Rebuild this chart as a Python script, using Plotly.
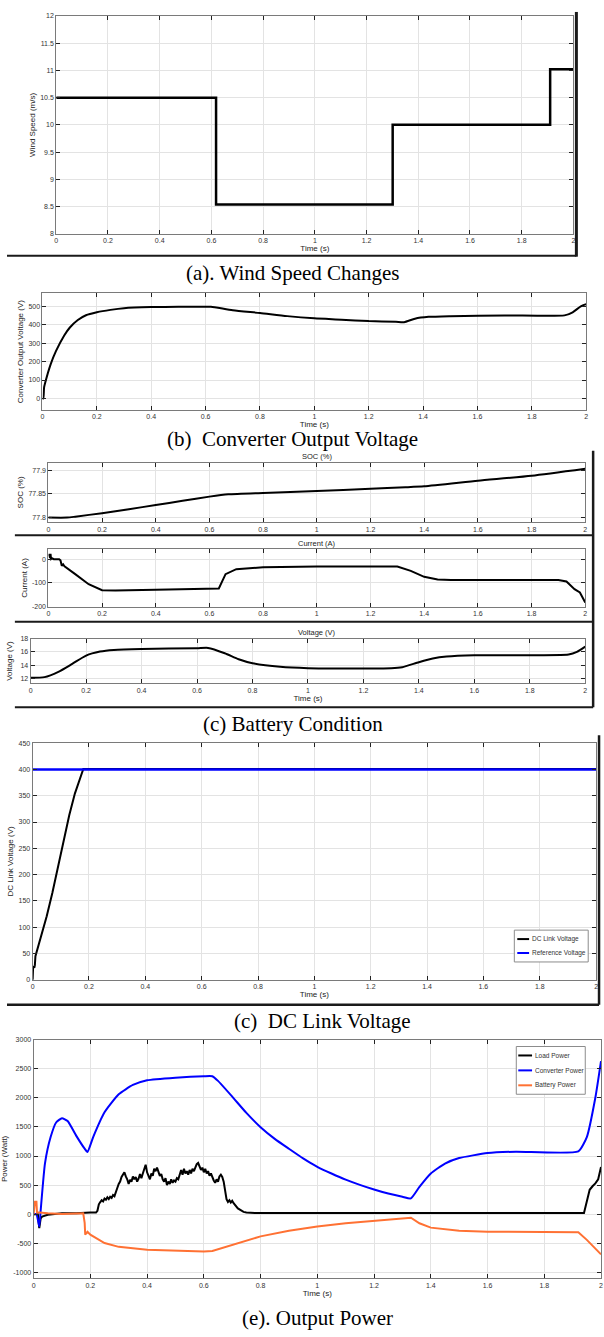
import plotly.graph_objects as go

# ---------------- data ----------------
# (a) wind speed (step profile)
wind_t = [0.0, 0.618, 1.301, 1.91, 2.0]
wind_v = [10.5, 8.54, 10.0, 11.02, 11.02]

# (b) converter output voltage
conv_t = [0, 0.003, 0.006, 0.01, 0.03, 0.05, 0.08, 0.1, 0.13, 0.16, 0.2, 0.25, 0.3, 0.4, 0.5,
          0.6, 0.62, 0.7, 0.8, 0.9, 1.0, 1.1, 1.2, 1.3, 1.33, 1.37, 1.42, 1.5, 1.7, 1.92, 1.95, 1.98, 2.0]
conv_v = [0, 0, 60, 85, 185, 258, 342, 384, 426, 452, 468, 481, 490, 496, 498,
          498, 498, 479, 464, 447, 435, 428, 420, 416, 414, 433, 443, 447, 451, 451, 468, 500, 512]

# (c) battery condition
soc_t = [0, 0.07, 0.1, 0.2, 0.3, 0.4, 0.5, 0.6, 0.67, 0.8, 1.0, 1.2, 1.33, 1.4, 1.6, 1.8, 2.0]
soc_v = [77.799, 77.799, 77.801, 77.8086, 77.817, 77.826, 77.835, 77.844, 77.849, 77.852,
         77.856, 77.861, 77.864, 77.866, 77.878, 77.889, 77.904]

cur_t = [0, 0.003, 0.006, 0.008, 0.01, 0.015, 0.02, 0.04, 0.045, 0.05, 0.055, 0.06, 0.1, 0.15, 0.2,
         0.25, 0.4, 0.6, 0.635, 0.66, 0.7, 0.8, 1.0, 1.3, 1.35, 1.4, 1.45, 1.5, 1.9, 1.93, 1.96, 1.98, 2.0]
cur_v = [20, 18, 5, 22, 0, 3, 0, 0, -5, -28, -22, -30, -63, -105, -130,
         -131, -128, -125, -123, -63, -42, -34, -31, -31, -49, -74, -85, -88, -88, -94, -126, -140, -182]

bv_t = [0, 0.05, 0.1, 0.15, 0.2, 0.25, 0.3, 0.4, 0.6, 0.64, 0.7, 0.75, 0.8, 0.9, 1.0, 1.3, 1.34,
        1.4, 1.45, 1.5, 1.6, 1.94, 1.97, 2.0]
bv_v = [12.1, 12.2, 13.0, 14.2, 15.45, 16.05, 16.3, 16.45, 16.55, 16.6, 15.8, 14.9, 14.3, 13.75,
        13.55, 13.55, 13.7, 14.45, 15.0, 15.3, 15.5, 15.6, 16.0, 16.8]

# (d) DC link voltage
dc_t = [0, 0.001, 0.002, 0.006, 0.008, 0.01, 0.03, 0.05, 0.07, 0.09, 0.11, 0.13, 0.15, 0.17, 0.18, 2.0]
dc_v = [0, 10, 26, 23, 28, 45, 83, 121, 165, 216, 266, 313, 354, 386, 401, 401]
ref_t = [0, 2.0]
ref_v = [400, 400]

# (e) output power
load_t = [0, 0.015, 0.02, 0.025, 0.03, 0.05, 0.1, 0.15, 0.2, 0.22, 0.225, 0.23, 0.235, 0.24, 0.245,
          0.25, 0.255, 0.26, 0.265, 0.27, 0.275, 0.28, 0.285, 0.29, 0.295, 0.3, 0.305, 0.31, 0.315,
          0.32, 0.325, 0.33, 0.335, 0.34, 0.345, 0.35, 0.355, 0.36, 0.365, 0.37, 0.375, 0.38, 0.385,
          0.39, 0.395, 0.4, 0.405, 0.41, 0.415, 0.42, 0.425, 0.43, 0.435, 0.44, 0.445, 0.45, 0.455,
          0.46, 0.465, 0.47, 0.475, 0.48, 0.485, 0.49, 0.495, 0.5, 0.505, 0.51, 0.515, 0.52, 0.525,
          0.53, 0.535, 0.54, 0.545, 0.55, 0.555, 0.56, 0.565, 0.57, 0.575, 0.58, 0.585, 0.59, 0.595,
          0.6, 0.605, 0.61, 0.615, 0.62, 0.625, 0.63, 0.635, 0.64, 0.645, 0.65, 0.655, 0.66, 0.665,
          0.67, 0.675, 0.68, 0.685, 0.69, 0.695, 0.7, 0.705, 0.71, 0.715, 0.72, 0.73, 0.74, 0.75,
          0.78, 1.94, 1.95, 1.96, 1.97, 1.98, 1.99, 2.0]
load_p = [0, 0, -240, -70, -40, -10, 15, 15, 28, 28, 60, 170, 210, 240, 220,
          270, 250, 290, 260, 300, 280, 330, 310, 400, 450, 520, 560, 640, 680,
          720, 650, 600, 520, 590, 560, 650, 600, 640, 560, 610, 690, 620, 700,
          760, 850, 720, 640, 600, 700, 660, 780, 740, 800, 720, 660, 690, 600,
          560, 620, 500, 560, 520, 600, 540, 580, 560, 620, 600, 700, 760, 680,
          780, 700, 740, 680, 760, 700, 780, 740, 800, 860, 880, 820, 760, 800,
          720, 780, 700, 740, 660, 700, 620, 580, 540, 600, 560, 650, 680, 640,
          560, 400, 260, 210, 240, 200, 230, 190, 160, 120, 100, 70, 40, 30,
          20, 20, 200, 420, 480, 530, 600, 810]

convp_t = [0, 0.01, 0.02, 0.025, 0.04, 0.06, 0.08, 0.1, 0.12, 0.15, 0.18, 0.19, 0.21, 0.25, 0.3,
           0.35, 0.4, 0.5, 0.6, 0.63, 0.65, 0.7, 0.75, 0.8, 0.85, 0.9, 0.95, 1.0, 1.05, 1.1, 1.15,
           1.2, 1.25, 1.3, 1.33, 1.36, 1.4, 1.45, 1.5, 1.6, 1.7, 1.92, 1.95, 1.98, 2.0]
convp_p = [0, 0, -210, 70, 870, 1325, 1580, 1650, 1600, 1350, 1125, 1070, 1325, 1750, 2060,
           2220, 2300, 2345, 2370, 2370, 2290, 2020, 1740, 1495, 1295, 1125, 960, 815, 700, 595, 505,
           425, 355, 300, 273, 470, 700, 870, 965, 1050, 1075, 1080, 1325, 2000, 2630]

bat_t = [0, 0.005, 0.01, 0.012, 0.02, 0.05, 0.1, 0.175, 0.18, 0.182, 0.19, 0.2, 0.25, 0.3, 0.4,
         0.5, 0.6, 0.63, 0.7, 0.8, 0.9, 1.0, 1.1, 1.2, 1.3, 1.33, 1.36, 1.4, 1.5, 1.6, 1.92, 1.95, 2.0]
bat_p = [0, 215, 215, 30, 30, 15, 5, 15, -150, -350, -300, -350, -495, -560, -610,
         -625, -640, -630, -525, -380, -285, -210, -155, -110, -70, -60, -155, -230, -285, -300,
         -310, -440, -690]

time_ticks = [0, 0.2, 0.4, 0.6, 0.8, 1, 1.2, 1.4, 1.6, 1.8, 2]
time_labels = ["0", "0.2", "0.4", "0.6", "0.8", "1", "1.2", "1.4", "1.6", "1.8", "2"]

dc_legend = ["DC Link Voltage", "Reference Voltage"]
pw_legend = ["Load Power", "Converter Power", "Battery Power"]

# ---------------- layout helpers ----------------
W, H = 604, 1337


def xd(l, r):
    return [l / W, r / W]


def yd(t, b):
    return [1 - b / H, 1 - t / H]


def px(x):
    return x / W


def py(y):
    return 1 - y / H


SANS = "Liberation Sans, Arial, sans-serif"
TICKFONT = dict(family=SANS, size=7, color="#333333")
TITLEFONT = dict(family=SANS, size=8, color="#222222")
CAPFONT = dict(family="Liberation Serif, Times New Roman, serif", size=21, color="#000000")

fig = go.Figure()

panels = [
    # name, x-domain, y-domain, y-range, y-ticks, y-ticktext, y-title, title standoff
    ("1", xd(50, 575), yd(12, 231), [8, 12], [8, 8.5, 9, 9.5, 10, 10.5, 11, 11.5, 12],
     ["8", "8.5", "9", "9.5", "10", "10.5", "11", "11.5", "12"], "Wind Speed (m/s)", 3),
    ("2", xd(36, 588), yd(291, 408), [-62, 570], [0, 100, 200, 300, 400, 500],
     ["0", "100", "200", "300", "400", "500"], "Converter Output Voltage (V)", 3),
    ("3", xd(42, 587), yd(461, 521), [77.789, 77.917], [77.8, 77.85, 77.9],
     ["77.8", "77.85", "77.9"], "SOC (%)", 3),
    ("4", xd(42, 587), yd(548, 606), [-200, 42], [-200, -100, 0],
     ["-200", "-100", "0"], "Current (A)", 3),
    ("5", xd(24, 587), yd(638, 683), [11.25, 18], [12, 14, 16, 18],
     ["12", "14", "16", "18"], "Voltage (V)", 6),
    ("6", xd(26, 598), yd(743, 981), [0, 450], list(range(0, 451, 50)),
     [str(v) for v in range(0, 451, 50)], "DC Link Voltage (V)", 3),
    ("7", xd(27, 603), yd(1041, 1281), [-1100, 3000], list(range(-1000, 3001, 500)),
     [str(v) for v in range(-1000, 3001, 500)], "Power (Watt)", 8),
]

show_xtitle = {"1", "2", "5", "6", "7"}

for name, xdom, ydom, yr, yt, ytt, ytitle, stand in panels:
    xkey = "xaxis" if name == "1" else "xaxis" + name
    ykey = "yaxis" if name == "1" else "yaxis" + name
    fig.layout[xkey] = dict(
        domain=xdom, anchor="y" + ("" if name == "1" else name), range=[0, 2],
        tickvals=time_ticks, ticktext=time_labels, tickfont=TICKFONT,
        showgrid=True, gridcolor="#e3e3e3", gridwidth=1, zeroline=False,
        showline=True, linecolor="#7a7a7a", linewidth=1, mirror="ticks",
        ticks="inside", ticklen=4, tickcolor="#222222",
        title=dict(text="Time (s)" if name in show_xtitle else "", font=TITLEFONT, standoff=2),
    )
    fig.layout[ykey] = dict(
        domain=ydom, anchor="x" + ("" if name == "1" else name), range=yr,
        tickvals=yt, ticktext=ytt, tickfont=TICKFONT,
        showgrid=True, gridcolor="#e3e3e3", gridwidth=1, zeroline=False,
        showline=True, linecolor="#7a7a7a", linewidth=1, mirror="ticks",
        ticks="inside", ticklen=4, tickcolor="#222222",
        title=dict(text=ytitle, font=TITLEFONT, standoff=stand),
    )

# ---------------- traces ----------------
fig.add_trace(go.Scatter(x=wind_t, y=wind_v, mode="lines", line=dict(color="black", width=2.5, shape="hv"),
                         xaxis="x", yaxis="y", showlegend=False))
fig.add_trace(go.Scatter(x=conv_t, y=conv_v, mode="lines", line=dict(color="black", width=2, shape="spline", smoothing=0.6),
                         xaxis="x2", yaxis="y2", showlegend=False))
fig.add_trace(go.Scatter(x=soc_t, y=soc_v, mode="lines", line=dict(color="black", width=2, shape="spline", smoothing=0.6),
                         xaxis="x3", yaxis="y3", showlegend=False))
fig.add_trace(go.Scatter(x=cur_t, y=cur_v, mode="lines", line=dict(color="black", width=2),
                         xaxis="x4", yaxis="y4", showlegend=False))
fig.add_trace(go.Scatter(x=bv_t, y=bv_v, mode="lines", line=dict(color="black", width=2, shape="spline", smoothing=0.6),
                         xaxis="x5", yaxis="y5", showlegend=False))

fig.add_trace(go.Scatter(x=dc_t, y=dc_v, mode="lines", name=dc_legend[0],
                         line=dict(color="black", width=2), xaxis="x6", yaxis="y6", showlegend=False))
fig.add_trace(go.Scatter(x=ref_t, y=ref_v, mode="lines", name=dc_legend[1],
                         line=dict(color="#0000ff", width=2.5), xaxis="x6", yaxis="y6", showlegend=False))

fig.add_trace(go.Scatter(x=load_t, y=load_p, mode="lines", name=pw_legend[0],
                         line=dict(color="black", width=2), xaxis="x7", yaxis="y7", showlegend=False))
fig.add_trace(go.Scatter(x=convp_t, y=convp_p, mode="lines", name=pw_legend[1],
                         line=dict(color="#0000ff", width=2, shape="spline", smoothing=0.5),
                         xaxis="x7", yaxis="y7", showlegend=False))
fig.add_trace(go.Scatter(x=bat_t, y=bat_p, mode="lines", name=pw_legend[2],
                         line=dict(color="#ff7133", width=2), xaxis="x7", yaxis="y7", showlegend=False))

# ---------------- annotations ----------------
ann = []
shapes = []


def cap(text, xc, yc):
    ann.append(dict(text=text, x=px(xc), y=py(yc), xref="paper", yref="paper", showarrow=False,
                    font=CAPFONT, xanchor="center", yanchor="middle"))


cap("(a). Wind Speed Changes", 290, 270)
cap("(b)  Converter Output Voltage", 290, 437)
cap("(c) Battery Condition", 290, 724)
cap("(c)  DC Link Voltage", 320, 1022)
cap("(e). Output Power", 315, 1321)

for t, yc in [("SOC (%)", 455), ("Current (A)", 542), ("Voltage (V)", 632)]:
    ann.append(dict(text=t, x=px(315), y=py(yc), xref="paper", yref="paper", showarrow=False,
                    font=dict(family=SANS, size=7.5, color="#222222"),
                    xanchor="center", yanchor="middle"))


# ---------------- frames ----------------
def hline(x0, x1, y, w=2, c="#1a1a1a"):
    shapes.append(dict(type="line", xref="paper", yref="paper", x0=px(x0), x1=px(x1), y0=py(y), y1=py(y),
                       line=dict(color=c, width=w)))


def vline(x, y0, y1, w=2, c="#1a1a1a"):
    shapes.append(dict(type="line", xref="paper", yref="paper", x0=px(x), x1=px(x), y0=py(y0), y1=py(y1),
                       line=dict(color=c, width=w)))


vline(578, 8, 254, 3)
hline(0, 578, 253, 2)
vline(595, 449, 707, 2.5)
hline(8, 595, 534, 2)
hline(8, 595, 621, 2)
hline(8, 595, 707, 2)
vline(601, 735, 1006, 2.5)
hline(0, 601, 1006, 2.5)


# ---------------- legends (MATLAB-style boxes) ----------------
def legend_box(x0, y0, x1, y1, names, colors, ys, lx0, lx1, tx):
    shapes.append(dict(type="rect", xref="paper", yref="paper", x0=px(x0), x1=px(x1), y0=py(y1), y1=py(y0),
                       line=dict(color="#8c8c8c", width=1), fillcolor="white", layer="above"))
    for n, c, yy in zip(names, colors, ys):
        shapes.append(dict(type="line", xref="paper", yref="paper", x0=px(lx0), x1=px(lx1), y0=py(yy), y1=py(yy),
                           line=dict(color=c, width=2), layer="above"))
        ann.append(dict(text=n, x=px(tx), y=py(yy), xref="paper", yref="paper", showarrow=False,
                        xanchor="left", yanchor="middle", font=dict(family=SANS, size=6.5, color="#333333")))


legend_box(515, 931, 590, 963, dc_legend, ["black", "#0000ff"], [940, 954], 518, 530, 530.5)
legend_box(517, 1048, 587, 1096, pw_legend, ["black", "#0000ff", "#ff7133"], [1057, 1072, 1087], 519, 533, 533.5)

fig.update_layout(
    width=W, height=H, margin=dict(l=0, r=0, t=0, b=0),
    paper_bgcolor="white", plot_bgcolor="white",
    annotations=ann, shapes=shapes, showlegend=False, hovermode=False,
)

# remove the browser's default page margin so the 604x1337 figure fills the window exactly
fig.write_html(
    "out.html",
    config={"displayModeBar": False, "staticPlot": True},
    post_script="document.body.style.margin='0';document.body.style.padding='0';"
                "document.body.style.overflow='hidden';",
)
